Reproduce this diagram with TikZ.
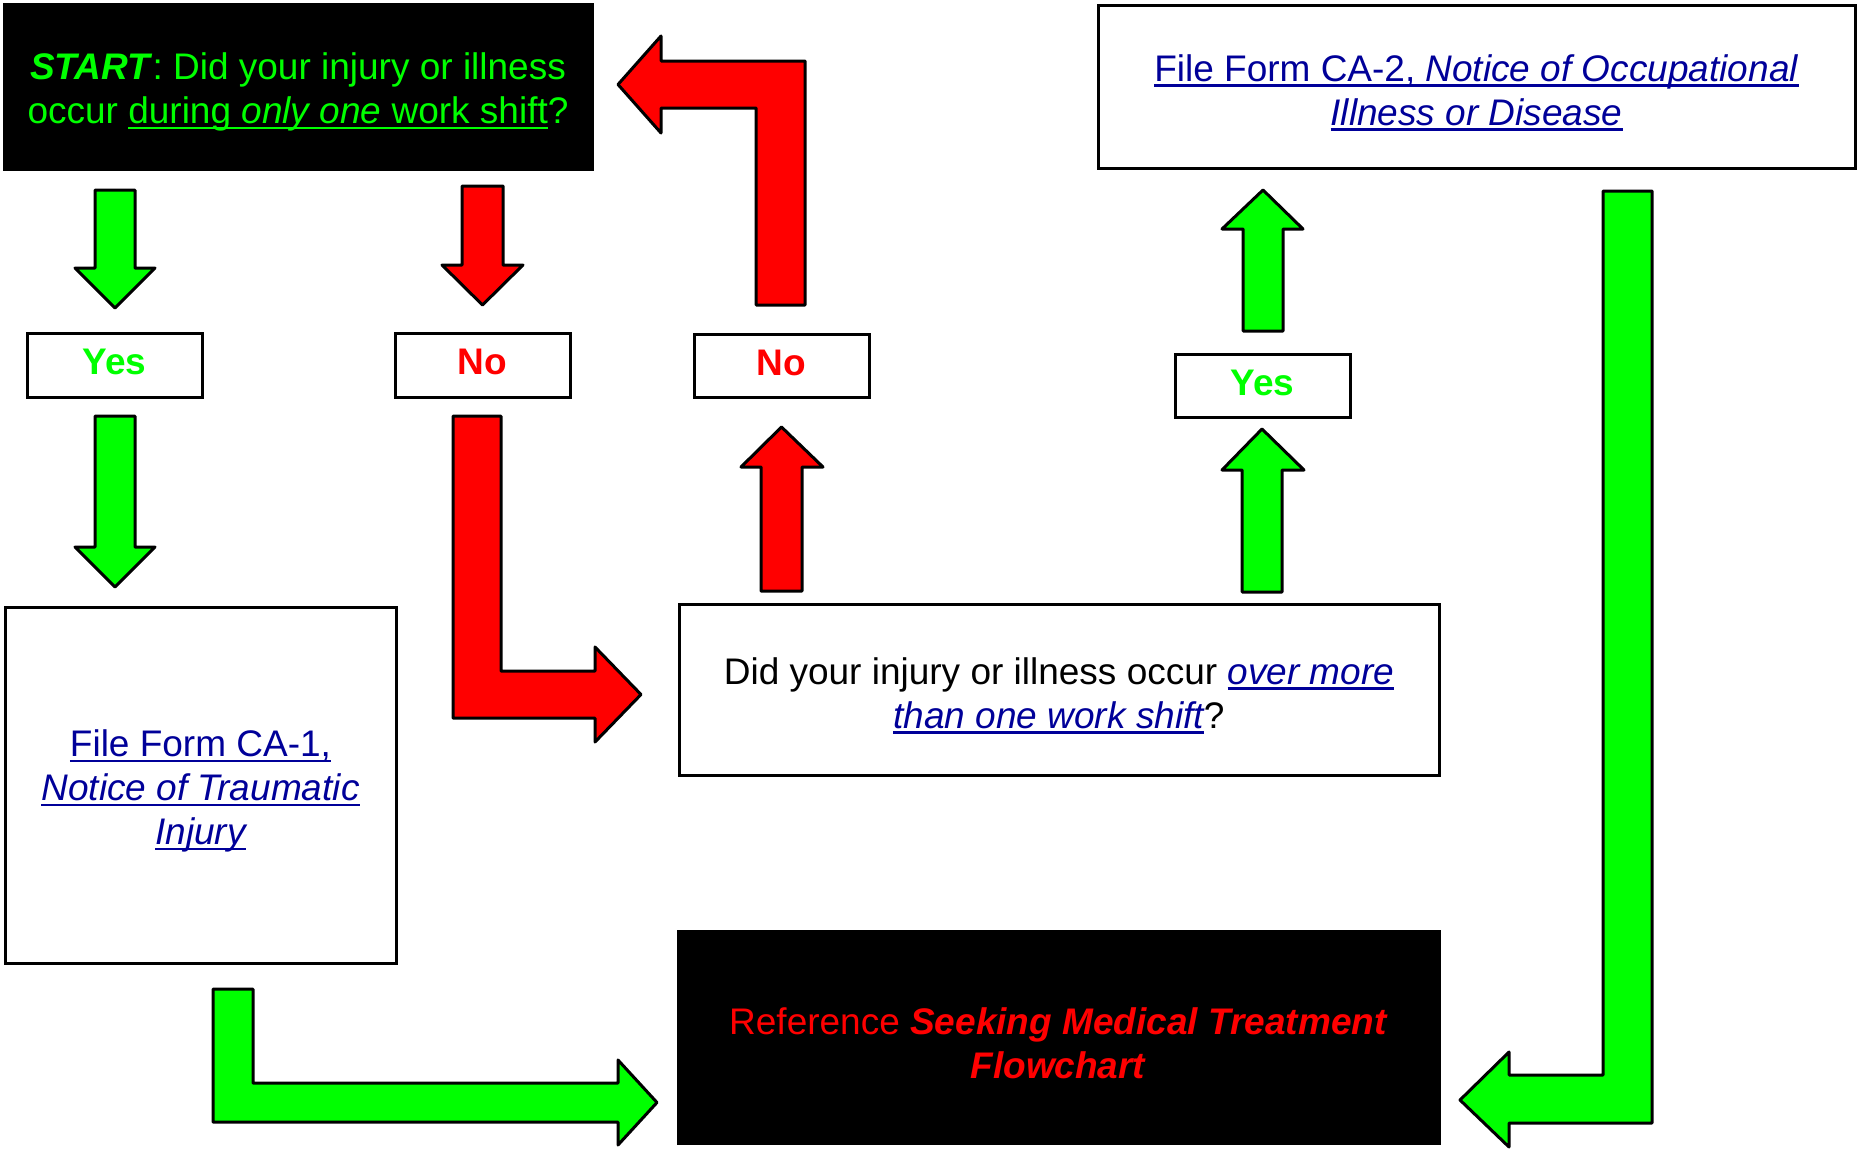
\documentclass[tikz,border=0pt]{standalone}
\usepackage{fontspec}
\setmainfont{Liberation Sans}
\newcommand{\myul}[1]{\leavevmode\setbox0\hbox{#1}\rlap{\rule[-5.5pt]{\wd0}{2.4pt}}\box0}
\newcommand{\tstrut}{\rule{0pt}{38.5pt}}
\definecolor{gr}{HTML}{00FF00}
\definecolor{rd}{HTML}{FF0000}
\definecolor{lk}{HTML}{000099}
\begin{document}
\begin{tikzpicture}[x=1pt,y=-1pt,
  box/.style={draw=black, line width=3pt, fill=white, inner sep=0pt, align=center,
              font=\fontsize{37}{44}\selectfont},
  darkbox/.style={box, fill=black},
  label/.style={box, minimum width=175pt, minimum height=64pt,
              font=\fontsize{37}{44}\selectfont\bfseries, text height=27pt, text depth=8pt},
  garrow/.style={draw=black, line width=3pt, line join=round, fill=gr},
  rarrow/.style={draw=black, line width=3pt, line join=round, fill=rd}]
\useasboundingbox (0,0) rectangle (1864,1149);

% boxes
\node[darkbox, minimum width=588pt, minimum height=165pt, text=gr] (start) at (298,86.5)
  {\tstrut\textbf{\textit{START}}: Did your injury or illness\\occur \myul{during \textit{only one} work shift}?};
\node[box, minimum width=757pt, minimum height=163pt, text=lk] (ca2) at (1476.5,86.5)
  {\tstrut\myul{File Form CA-2, \textit{Notice of Occupational}}\\\myul{\itshape Illness or Disease}};
\node[label, text=gr] (yes1) at (114.5,365) {Yes};
\node[label, text=rd] (no1) at (482.5,365) {No};
\node[label, text=rd, minimum height=63pt] (no2) at (781.5,365.5) {No};
\node[label, text=gr, minimum height=63pt] (yes2) at (1262.5,385.5) {Yes};
\node[box, minimum width=391pt, minimum height=356pt, text=lk] (ca1) at (200.5,785)
  {\tstrut\myul{File Form CA-1,}\\\myul{\itshape Notice of Traumatic}\\\myul{\itshape Injury}};
\node[box, minimum width=760pt, minimum height=171pt] (q) at (1059,689.5)
  {\tstrut Did your injury or illness occur \textcolor{lk}{\myul{\itshape over more}}\\\textcolor{lk}{\myul{\itshape than one work shift}}?};
\node[darkbox, minimum width=761pt, minimum height=212pt, text=rd] (ref) at (1058.5,1037)
  {\tstrut Reference \textbf{\itshape Seeking Medical Treatment}\\\textbf{\itshape Flowchart}};

% block arrows
% start -> yes1
\draw[garrow] (95,190) -- (135,190) -- (135,268) -- (155,268) -- (115,308) -- (75,268) -- (95,268) -- cycle;
% start -> no1
\draw[rarrow] (462,186) -- (503,186) -- (503,265) -- (523,265) -- (482.5,305) -- (442,265) -- (462,265) -- cycle;
% yes1 -> ca1
\draw[garrow] (95,416) -- (135,416) -- (135,547) -- (155,547) -- (115,587) -- (75,547) -- (95,547) -- cycle;
% no1 -> q
\draw[rarrow] (453,416) -- (501,416) -- (501,671) -- (595,671) -- (595,647) -- (641,694.5) -- (595,742) -- (595,718) -- (453,718) -- cycle;
% q -> no2
\draw[rarrow] (761,591) -- (802,591) -- (802,467) -- (823,467) -- (781.5,427) -- (741,467) -- (761,467) -- cycle;
% no2 -> start
\draw[rarrow] (756,305) -- (805,305) -- (805,61) -- (661,61) -- (661,36) -- (618,84.5) -- (661,133) -- (661,108) -- (756,108) -- cycle;
% q -> yes2
\draw[garrow] (1242,592) -- (1282,592) -- (1282,470) -- (1304,470) -- (1262,429) -- (1222,470) -- (1242,470) -- cycle;
% yes2 -> ca2
\draw[garrow] (1243,331) -- (1283,331) -- (1283,229) -- (1303,229) -- (1263,190) -- (1222,229) -- (1243,229) -- cycle;
% ca1 -> ref
\draw[garrow] (213,989) -- (253,989) -- (253,1083) -- (618,1083) -- (618,1060) -- (657,1102.5) -- (618,1145) -- (618,1122) -- (213,1122) -- cycle;
% ca2 -> ref
\draw[garrow] (1603,191) -- (1652,191) -- (1652,1123) -- (1509,1123) -- (1509,1147) -- (1460,1100) -- (1509,1052) -- (1509,1075) -- (1603,1075) -- cycle;
\end{tikzpicture}
\end{document}
